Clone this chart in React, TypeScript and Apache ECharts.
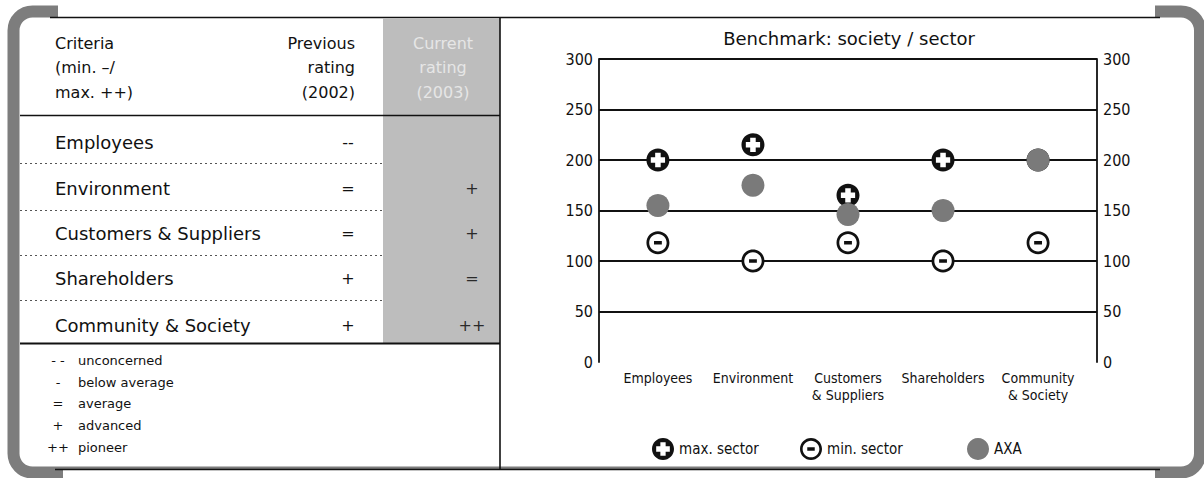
import React, { useEffect, useRef } from "react";
import * as echarts from "echarts";

// ---------- data ----------
const categories = ["Employees", "Environment", "Customers & Suppliers", "Shareholders", "Community & Society"];
const axisCategoryLabels = ["Employees", "Environment", "Customers\n& Suppliers", "Shareholders", "Community\n& Society"];
const previousRating = ["--", "=", "=", "+", "+"];
const currentRating = ["", "+", "+", "=", "++"];
const ratingCodes = ["- -", "-", "=", "+", "++"];
const ratingMeanings = ["unconcerned", "below average", "average", "advanced", "pioneer"];
const maxSector = [200, 215, 165, 200, 200];
const minSector = [118, 100, 118, 100, 118];
const axaValues = [155, 175, 146, 150, 200];
const seriesNames = ["max. sector", "min. sector", "AXA"];
const headerCriteria = ["Criteria", "(min. \u2013/", "max. ++)"];
const headerPrevious = ["Previous", "rating", "(2002)"];
const headerCurrent = ["Current", "rating", "(2003)"];
const chartTitle = "Benchmark: society / sector";

// ---------- symbols ----------
const MAX_PATH =
  "path://M10,0 C15.523,0 20,4.477 20,10 C20,15.523 15.523,20 10,20 C4.477,20 0,15.523 0,10 C0,4.477 4.477,0 10,0 Z " +
  "M7.6,3.8 L7.6,7.6 L3.8,7.6 L3.8,12.4 L7.6,12.4 L7.6,16.2 L12.4,16.2 L12.4,12.4 L16.2,12.4 L16.2,7.6 L12.4,7.6 L12.4,3.8 Z";
const MIN_PATH =
  "path://M10,0 C15.523,0 20,4.477 20,10 C20,15.523 15.523,20 10,20 C4.477,20 0,15.523 0,10 C0,4.477 4.477,0 10,0 Z " +
  "M10,2.4 C5.803,2.4 2.4,5.803 2.4,10 C2.4,14.197 5.803,17.6 10,17.6 C14.197,17.6 17.6,14.197 17.6,10 C17.6,5.803 14.197,2.4 10,2.4 Z " +
  "M6.6,8.5 L13.4,8.5 L13.4,11.5 L6.6,11.5 Z";

const TABLE_FONT = "'DejaVu Sans', Verdana, sans-serif";
const COND_FONT = "'DejaVu Sans Condensed', 'Liberation Sans Narrow', 'DejaVu Sans', sans-serif";

function buildGraphic() {
  const els: any[] = [];
  // frame
  els.push({
    type: "rect",
    shape: { x: 13.5, y: 11.5, width: 1186.5, height: 461, r: 19 },
    style: { fill: "none", stroke: "#7d7d7d", lineWidth: 12 },
  });
  els.push({ type: "rect", shape: { x: 58, y: 0, width: 1097, height: 17 }, style: { fill: "#fff" } });
  els.push({ type: "rect", shape: { x: 63, y: 469.5, width: 1092, height: 9 }, style: { fill: "#fff" } });
  els.push({ type: "line", shape: { x1: 50, y1: 17.5, x2: 1160, y2: 17.5 }, style: { stroke: "#111", lineWidth: 1.6 } });
  els.push({ type: "line", shape: { x1: 55, y1: 469.5, x2: 1160, y2: 469.5 }, style: { stroke: "#111", lineWidth: 1.6 } });
  // current rating column
  els.push({ type: "rect", shape: { x: 383, y: 18, width: 117, height: 325 }, style: { fill: "#bdbdbd" } });
  // divider
  els.push({ type: "line", shape: { x1: 500, y1: 17.5, x2: 500, y2: 469.5 }, style: { stroke: "#111", lineWidth: 1.6 } });
  // table lines
  els.push({ type: "line", shape: { x1: 20, y1: 115.5, x2: 500, y2: 115.5 }, style: { stroke: "#111", lineWidth: 1.6 } });
  [163, 210, 255, 300].forEach((y) =>
    els.push({
      type: "line",
      shape: { x1: 20, y1: y + 0.5, x2: 383, y2: y + 0.5 },
      style: { stroke: "#555", lineWidth: 1, lineDash: [2, 3] },
    })
  );
  els.push({ type: "line", shape: { x1: 20, y1: 343.5, x2: 500, y2: 343.5 }, style: { stroke: "#111", lineWidth: 2 } });

  const headerY = [43, 67, 92];
  headerCriteria.forEach((t, i) =>
    els.push({ type: "text", x: 55, y: headerY[i], style: { text: t, fontSize: 16, fontFamily: TABLE_FONT, fill: "#111", textAlign: "left", textVerticalAlign: "middle" } })
  );
  headerPrevious.forEach((t, i) =>
    els.push({ type: "text", x: 355, y: headerY[i], style: { text: t, fontSize: 16, fontFamily: TABLE_FONT, fill: "#111", textAlign: "right", textVerticalAlign: "middle" } })
  );
  headerCurrent.forEach((t, i) =>
    els.push({ type: "text", x: 443, y: headerY[i], style: { text: t, fontSize: 16, fontFamily: TABLE_FONT, fill: "#e6e6e6", textAlign: "center", textVerticalAlign: "middle" } })
  );

  const rowY = [142, 188, 233, 278, 325];
  categories.forEach((c, i) => {
    els.push({ type: "text", x: 55, y: rowY[i], style: { text: c, fontSize: 18, fontFamily: TABLE_FONT, fill: "#111", textAlign: "left", textVerticalAlign: "middle" } });
    els.push({ type: "text", x: 348, y: rowY[i], style: { text: previousRating[i], fontSize: 16, fontFamily: TABLE_FONT, fill: "#111", textAlign: "center", textVerticalAlign: "middle" } });
    els.push({ type: "text", x: 472, y: rowY[i], style: { text: currentRating[i], fontSize: 16, fontFamily: TABLE_FONT, fill: "#2a2a2a", textAlign: "center", textVerticalAlign: "middle" } });
  });

  const legY = [360, 382, 403, 425, 447];
  ratingCodes.forEach((c, i) => {
    els.push({ type: "text", x: 58, y: legY[i], style: { text: c, fontSize: 13, fontFamily: TABLE_FONT, fill: "#111", textAlign: "center", textVerticalAlign: "middle" } });
    els.push({ type: "text", x: 78, y: legY[i], style: { text: ratingMeanings[i], fontSize: 13, fontFamily: TABLE_FONT, fill: "#111", textAlign: "left", textVerticalAlign: "middle" } });
  });

  els.push({ type: "text", x: 849, y: 38, style: { text: chartTitle, fontSize: 18, fontFamily: TABLE_FONT, fill: "#111", textAlign: "center", textVerticalAlign: "middle" } });
  return els;
}

export default function App() {
  const ref = useRef<HTMLDivElement>(null);
  useEffect(() => {
    document.body.style.margin = "0";
    if (!ref.current) return;
    const chart = echarts.init(ref.current, undefined, { renderer: "svg" });
    const toPts = (arr: number[]) => arr.map((v, i) => [i, v]);
    const axisY = (pos: "left" | "right", split: boolean) => ({
      type: "value",
      position: pos,
      min: 0,
      max: 300,
      interval: 50,
      axisLine: { show: true, onZero: false, lineStyle: { color: "#111", width: 1.8 } },
      axisTick: { show: false },
      axisLabel: { fontSize: 16, fontFamily: COND_FONT, color: "#111", margin: 6 },
      splitLine: { show: split, showMinLine: false, lineStyle: { color: "#111", width: 1.8 } },
    });
    const legendBase = {
      itemWidth: 22,
      itemHeight: 22,
      selectedMode: false,
      top: 433,
      textStyle: { fontSize: 15, fontFamily: COND_FONT, color: "#111" },
    };
    chart.setOption({
      animation: false,
      backgroundColor: "#fff",
      grid: { left: 599, right: 1204 - 1097, top: 59, bottom: 478 - 362 },
      xAxis: {
        type: "value",
        min: -0.62,
        max: 4.62,
        axisLine: { show: false },
        axisTick: { show: false },
        splitLine: { show: false },
        axisLabel: {
          customValues: [0, 1, 2, 3, 4],
          formatter: (v: number) => axisCategoryLabels[Math.round(v)],
          fontSize: 14,
          lineHeight: 17,
          margin: 7,
          color: "#111",
          fontFamily: COND_FONT,
        },
      },
      yAxis: [axisY("left", true), axisY("right", false)],
      legend: [
        { ...legendBase, data: [seriesNames[0]], left: 647 },
        { ...legendBase, data: [seriesNames[1]], left: 795 },
        { ...legendBase, data: [seriesNames[2]], left: 962 },
      ],
      graphic: { elements: buildGraphic() },
      series: [
        {
          type: "scatter",
          name: "_bgmax",
          silent: true,
          symbol: "circle",
          symbolSize: 19,
          itemStyle: { color: "#fff", opacity: 1 },
          data: toPts(maxSector),
          z: 2,
        },
        {
          type: "scatter",
          name: "_bgmin",
          silent: true,
          symbol: "circle",
          symbolSize: 19,
          itemStyle: { color: "#fff", opacity: 1 },
          data: toPts(minSector),
          z: 2,
        },
        {
          type: "scatter",
          name: seriesNames[0],
          symbol: MAX_PATH,
          symbolSize: 23,
          itemStyle: { color: "#111", opacity: 1 },
          data: toPts(maxSector),
          z: 3,
        },
        {
          type: "scatter",
          name: seriesNames[1],
          symbol: MIN_PATH,
          symbolSize: 23,
          itemStyle: { color: "#111", opacity: 1 },
          data: toPts(minSector),
          z: 3,
        },
        {
          type: "scatter",
          name: seriesNames[2],
          symbol: "circle",
          symbolSize: 23,
          itemStyle: { color: "#7a7a7a", opacity: 1 },
          data: toPts(axaValues),
          z: 4,
        },
      ],
    });
    return () => chart.dispose();
  }, []);
  return <div ref={ref} style={{ width: 1204, height: 478 }} />;
}
